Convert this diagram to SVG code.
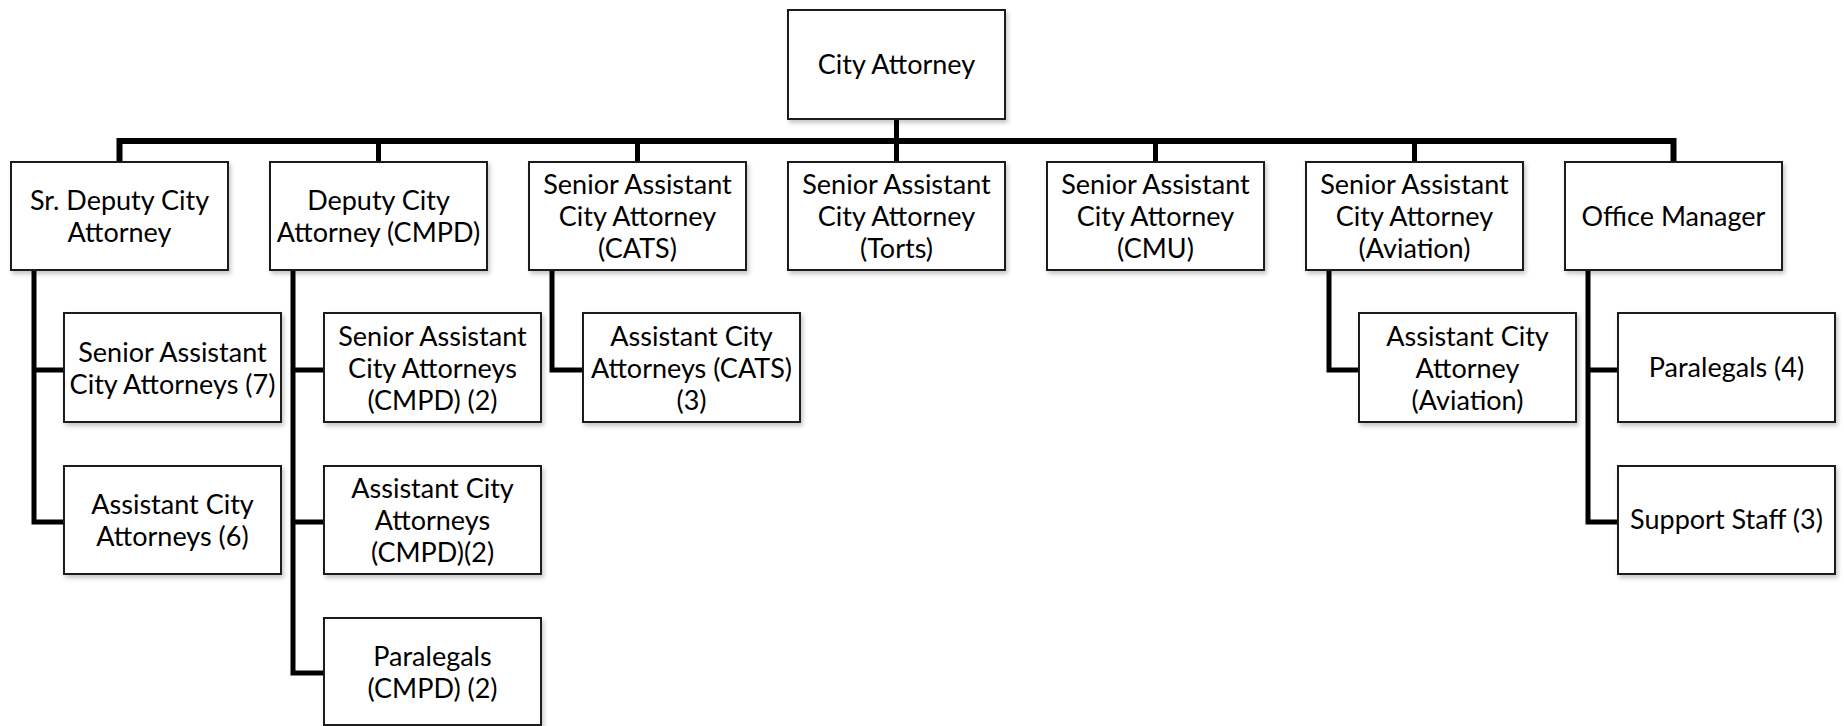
<svg xmlns="http://www.w3.org/2000/svg" width="1844" height="726" viewBox="0 0 1844 726">
<style>
.box{fill:#fff;stroke:#1a1a1a;stroke-width:2;filter:url(#sh)}
.t{font-family:Lato,"Liberation Sans",sans-serif;font-size:27px;fill:#000;text-anchor:middle}
.c{fill:none;stroke:#000;stroke-width:5;stroke-linejoin:miter;stroke-linecap:square}
.bus{stroke-width:6}
</style>
<defs>
<filter id="sh" x="-10%" y="-10%" width="125%" height="130%">
<feDropShadow dx="2" dy="3" stdDeviation="2" flood-color="#000" flood-opacity="0.22"/>
</filter>
</defs>
<rect width="1844" height="726" fill="#fff"/>
<g id="connectors">
<path class="c" d="M896.5 119 V162"/>
<path class="c bus" d="M119.5 162 V141 H1673.5 V162"/>
<path class="c" d="M378.5 141 V162 M637.5 141 V162 M1155.5 141 V162 M1414.5 141 V162"/>
<path class="c" d="M34 271 V522 H64 M34 370 H64"/>
<path class="c" d="M293 271 V673 H324 M293 370 H324 M293 522 H324"/>
<path class="c" d="M552 270 V370 H583"/>
<path class="c" d="M1329 270 V370 H1359"/>
<path class="c" d="M1588 270 V522 H1618 M1588 370 H1618"/>
</g>
<g id="city-attorney"><rect class="box" x="788" y="10" width="217" height="109"/><text class="t" x="896.5" y="74">City Attorney</text></g>
<g id="sr-deputy"><rect class="box" x="11" y="162" width="217" height="108"/><text class="t" x="119.5" y="210">Sr. Deputy City</text><text class="t" x="119.5" y="242">Attorney</text></g>
<g id="deputy-cmpd"><rect class="box" x="270" y="162" width="217" height="108"/><text class="t" x="378.5" y="210">Deputy City</text><text class="t" x="378.5" y="242">Attorney (CMPD)</text></g>
<g id="senior-cats"><rect class="box" x="529" y="162" width="217" height="108"/><text class="t" x="637.5" y="194">Senior Assistant</text><text class="t" x="637.5" y="226">City Attorney</text><text class="t" x="637.5" y="258">(CATS)</text></g>
<g id="senior-torts"><rect class="box" x="788" y="162" width="217" height="108"/><text class="t" x="896.5" y="194">Senior Assistant</text><text class="t" x="896.5" y="226">City Attorney</text><text class="t" x="896.5" y="258">(Torts)</text></g>
<g id="senior-cmu"><rect class="box" x="1047" y="162" width="217" height="108"/><text class="t" x="1155.5" y="194">Senior Assistant</text><text class="t" x="1155.5" y="226">City Attorney</text><text class="t" x="1155.5" y="258">(CMU)</text></g>
<g id="senior-aviation"><rect class="box" x="1306" y="162" width="217" height="108"/><text class="t" x="1414.5" y="194">Senior Assistant</text><text class="t" x="1414.5" y="226">City Attorney</text><text class="t" x="1414.5" y="258">(Aviation)</text></g>
<g id="office-manager"><rect class="box" x="1565" y="162" width="217" height="108"/><text class="t" x="1673.5" y="226">Office Manager</text></g>
<g id="sr-asst-7"><rect class="box" x="64" y="313" width="217" height="109"/><text class="t" x="172.5" y="362">Senior Assistant</text><text class="t" x="172.5" y="394">City Attorneys (7)</text></g>
<g id="asst-6"><rect class="box" x="64" y="466" width="217" height="108"/><text class="t" x="172.5" y="514">Assistant City</text><text class="t" x="172.5" y="546">Attorneys (6)</text></g>
<g id="sr-asst-cmpd"><rect class="box" x="324" y="313" width="217" height="109"/><text class="t" x="432.5" y="346">Senior Assistant</text><text class="t" x="432.5" y="378">City Attorneys</text><text class="t" x="432.5" y="410">(CMPD) (2)</text></g>
<g id="asst-cmpd"><rect class="box" x="324" y="466" width="217" height="108"/><text class="t" x="432.5" y="498">Assistant City</text><text class="t" x="432.5" y="530">Attorneys</text><text class="t" x="432.5" y="562">(CMPD)(2)</text></g>
<g id="paralegals-cmpd"><rect class="box" x="324" y="618" width="217" height="107"/><text class="t" x="432.5" y="666">Paralegals</text><text class="t" x="432.5" y="698">(CMPD) (2)</text></g>
<g id="asst-cats"><rect class="box" x="583" y="313" width="217" height="109"/><text class="t" x="691.5" y="346">Assistant City</text><text class="t" x="691.5" y="378">Attorneys (CATS)</text><text class="t" x="691.5" y="410">(3)</text></g>
<g id="asst-aviation"><rect class="box" x="1359" y="313" width="217" height="109"/><text class="t" x="1467.5" y="346">Assistant City</text><text class="t" x="1467.5" y="378">Attorney</text><text class="t" x="1467.5" y="410">(Aviation)</text></g>
<g id="paralegals-4"><rect class="box" x="1618" y="313" width="217" height="109"/><text class="t" x="1726.5" y="377">Paralegals (4)</text></g>
<g id="support-staff"><rect class="box" x="1618" y="466" width="217" height="108"/><text class="t" x="1726.5" y="529">Support Staff (3)</text></g>
</svg>
